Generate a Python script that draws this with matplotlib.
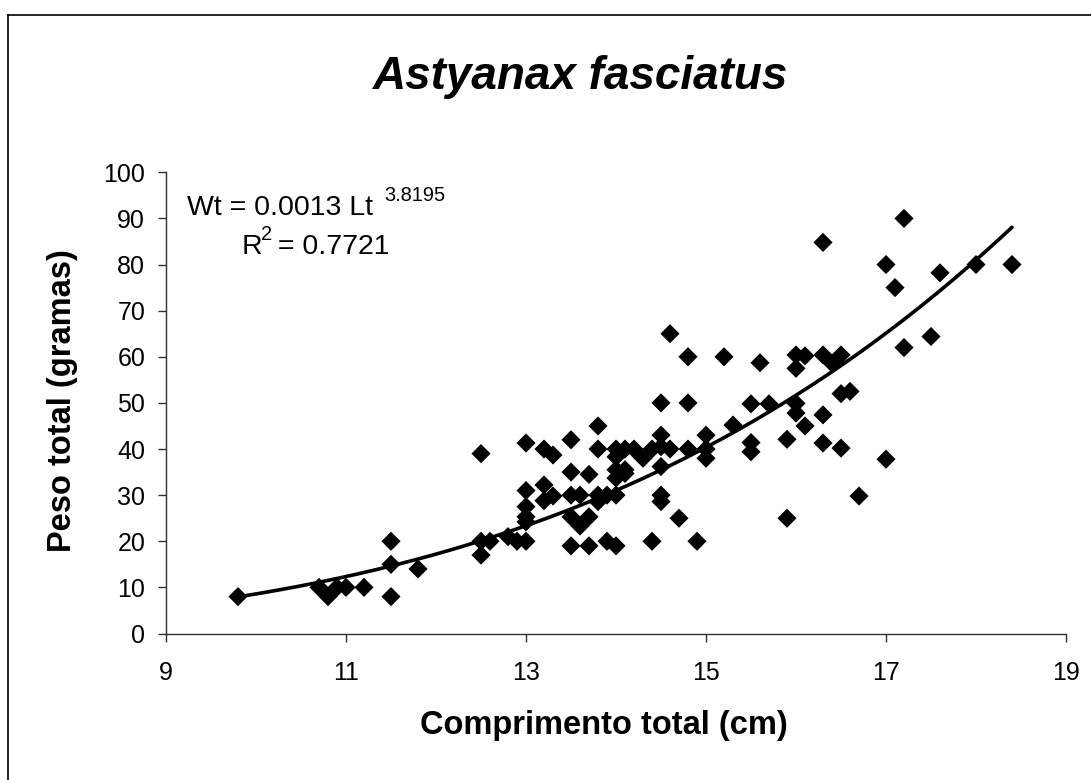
import numpy as np
import matplotlib
matplotlib.use("Agg")
import matplotlib.pyplot as plt
from matplotlib.lines import Line2D

plt.rcParams["font.family"] = ["Liberation Sans", "DejaVu Sans"]

# Total length (cm) and total weight (g) of each specimen
length_cm = [
    9.8, 10.7, 10.8, 10.9, 11.0, 11.2, 11.5, 11.5, 11.5, 11.8,
    12.5, 12.5, 12.5, 12.6, 12.8, 12.9,
    13.0, 13.0, 13.0, 13.0, 13.0, 13.0,
    13.2, 13.2, 13.2, 13.3, 13.3,
    13.5, 13.5, 13.5, 13.5, 13.5, 13.6, 13.6,
    13.7, 13.7, 13.7, 13.8, 13.8, 13.8, 13.8, 13.9, 13.9,
    14.0, 14.0, 14.0, 14.0, 14.0, 14.0, 14.1, 14.1, 14.1,
    14.2, 14.3, 14.4, 14.4,
    14.5, 14.5, 14.5, 14.5, 14.5, 14.5, 14.6, 14.6, 14.7,
    14.8, 14.8, 14.8, 14.9, 15.0, 15.0, 15.0,
    15.2, 15.3, 15.5, 15.5, 15.5, 15.6, 15.7, 15.9, 15.9,
    16.0, 16.0, 16.0, 16.0, 16.1, 16.1,
    16.3, 16.3, 16.3, 16.3, 16.4, 16.5, 16.5, 16.5, 16.6, 16.7,
    17.0, 17.0, 17.1, 17.2, 17.2, 17.5, 17.6, 18.0, 18.4,
]
weight_g = [
    8, 10, 8, 10, 10, 10, 20, 15, 8, 14,
    39, 20, 17, 20, 21, 20,
    41.3, 31, 27.5, 25.3, 24.2, 20,
    40, 32.2, 28.8, 38.7, 29.8,
    42, 35, 30, 25.3, 19, 30, 23.3,
    34.5, 25.3, 19, 45, 40, 30, 28.6, 30, 20,
    40, 38.3, 35.5, 33.7, 30, 19, 40, 35.5, 34.7,
    40, 38, 40, 20,
    50, 43, 40.5, 36.2, 30, 28.6, 65, 40, 25,
    60, 50, 40, 20, 43, 40, 38,
    60, 45.2, 49.8, 41.4, 39.4, 58.7, 49.8, 42.1, 25,
    60.4, 57.5, 49.9, 47.8, 60.2, 45,
    84.8, 60.4, 47.4, 41.3, 58.6, 60.4, 52, 40.2, 52.5, 29.8,
    80, 37.8, 75, 90, 62, 64.4, 78.2, 80, 80,
]

# Power-law fit Wt = a * Lt^b
coef_a = 0.0013
coef_b = 3.8195
r_squared = 0.7721

x_ticks = [9, 11, 13, 15, 17, 19]
y_ticks = [0, 10, 20, 30, 40, 50, 60, 70, 80, 90, 100]

W, H = 1091, 780
fig = plt.figure(figsize=(W / 100, H / 100), dpi=100)
fig.patch.set_facecolor("white")

# Chart-area frame (left and top edges)
fig.add_artist(Line2D([8 / W, 8 / W], [0, 1 - 15 / H], color="black", lw=1.2,
                      transform=fig.transFigure))
fig.add_artist(Line2D([8 / W, 1.0], [1 - 15 / H, 1 - 15 / H], color="black", lw=1.2,
                      transform=fig.transFigure))

ax = fig.add_axes([166 / W, 1 - 633.5 / H, 900 / W, (633.5 - 172.3) / H])
ax.set_xlim(9, 19)
ax.set_ylim(0, 100)

ax.scatter(length_cm, weight_g, marker="D", s=95, color="black",
           edgecolors="none", zorder=3)

xs = np.linspace(min(length_cm), max(length_cm), 200)
ax.plot(xs, coef_a * xs ** coef_b, color="black", lw=2.6, zorder=4,
        solid_capstyle="round")

for side in ("top", "right"):
    ax.spines[side].set_visible(False)
for side in ("left", "bottom"):
    ax.spines[side].set_color("#303030")
    ax.spines[side].set_linewidth(1.0)

ax.set_xticks(x_ticks)
ax.set_yticks(y_ticks)
ax.set_xticklabels([str(v) for v in x_ticks])
ax.set_yticklabels([str(v) for v in y_ticks])
ax.tick_params(axis="x", direction="out", length=6, width=1.0, pad=14,
               labelsize=18, color="#303030")
ax.tick_params(axis="y", direction="out", length=6, width=1.0, pad=9,
               labelsize=18, color="#303030")

# Titles and axis labels
fig.text(581 / W, 1 - 89 / H, "Astyanax fasciatus", ha="center", va="baseline",
         fontsize=33, fontweight="bold", fontstyle="italic")
fig.text(604 / W, 1 - 734 / H, "Comprimento total (cm)", ha="center",
         va="baseline", fontsize=23.5, fontweight="bold")
fig.text(63 / W, 1 - 401 / H, "Peso total (gramas)", ha="center", va="center",
         rotation=90, fontsize=23.5, fontweight="bold")

# Fit equation
fig.text(187 / W, 1 - 215 / H, "Wt = %.4f Lt" % coef_a, ha="left",
         va="baseline", fontsize=20.5)
fig.text(384 / W, 1 - 201 / H, "%.4f" % coef_b, ha="left", va="baseline",
         fontsize=14.4)
fig.text(242 / W, 1 - 254.5 / H, "R", ha="left", va="baseline", fontsize=20.5)
fig.text(261 / W, 1 - 240 / H, "2", ha="left", va="baseline", fontsize=14.4)
fig.text(270 / W, 1 - 254.5 / H, " = %.4f" % r_squared, ha="left",
         va="baseline", fontsize=20.5)

fig.savefig("out.png", dpi=100, facecolor="white")
